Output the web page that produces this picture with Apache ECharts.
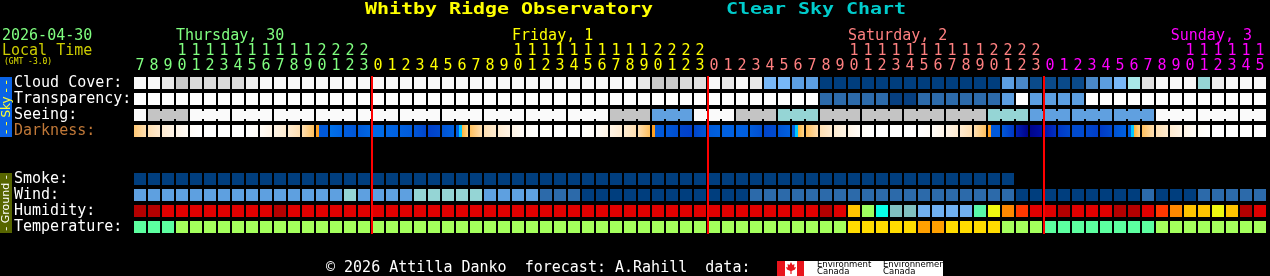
<!DOCTYPE html>
<html><head><meta charset="utf-8">
<style>html,body{margin:0;padding:0;background:#000;overflow:hidden}#c{width:1270px;height:276px}</style>
<script src="https://cdn.jsdelivr.net/npm/echarts@6/dist/echarts.min.js"></script>
</head><body><div id="c"></div>
<script>
// ---------------- DATA ----------------
const hours = [7,8,9,10,11,12,13,14,15,16,17,18,19,20,21,22,23,
  0,1,2,3,4,5,6,7,8,9,10,11,12,13,14,15,16,17,18,19,20,21,22,23,
  0,1,2,3,4,5,6,7,8,9,10,11,12,13,14,15,16,17,18,19,20,21,22,23,
  0,1,2,3,4,5,6,7,8,9,10,11,12,13,14,15];
const dayNames = ['Thursday, 30','Friday, 1','Saturday, 2','Sunday, 3'];
const rowNames = ['Cloud Cover:','Transparency:','Seeing:','Darkness:','','','Smoke:','Wind:','Humidity:','Temperature:'];
// cloud cover, percent
const cloudCover = [100,100,90,70,80,80,80,80,95,
  100,100,100,100,100,100,100,100,100,100,100,100,100,100,100,100,100,100,100,100,100,100,100,100,100,100,100,
  90,70,70,80,85,100,90,100,90,50,50,40,40,
  0,0,0,0,0,0,0,0,0,0,0,0,0,
  40,30,10,10,10,10,30,40,50,60,85,100,100,100,65,95,100,100,100];
// transparency: 0 too cloudy .. 5 transparent
const transparency = [0,0,0,0,0,0,0,0,0,0,0,0,0,0,0,0,0,0,0,0,0,0,0,0,0,0,0,0,0,0,0,0,0,0,0,0,0,0,0,0,0,0,0,0,0,0,0,0,0,
  3,3,3,3,3,4,4,3,3,3,3,3,3,2,0,2,2,2,2,
  0,0,0,0,0,0,0,0,0,0,0,0,0];
// seeing: 0 too cloudy, 1 bad, 2 poor, 3 average
const seeing = [0,1,1,1,
  0,0,0,0,0,0,0,0,0,0,0,0,0,0,0,0,0,0,0,0,0,0,0,0,0,0,0,0,0,0,
  1,1,1,3,3,3,0,0,0,1,1,1,2,2,2,
  1,1,1,1,1,1,1,1,1,1,1,1,
  2,2,2,3,3,3,3,3,3,3,3,3,
  0,0,0,0,0,0,0,0];
// darkness: 0 daylight .. 5 twilight edge, 5.5 sun crossing, 6 moonlit .. 12 darkest
const darkness = [4,3,2,1,0,0,0,0,0,
  1,2,3,4,5.5,7,9,8,7,8,8,9,10,8,5.5,
  4,3,2,1,0,0,0,0,0,
  1,2,3,4,5.5,8.5,10,9,8,8,8,8.5,10,8,5.5,
  4,3,2,1,0,0,0,0,0,
  1,2,3,4,5.5,8.5,12,11.5,10.5,9.5,9,9.5,10,8,5.5,
  4,3,2,1,0,0,0,0,0];
// smoke: 0 = none (forecast ends after Sat 22h)
const smoke = [0,0,0,0,0,0,0,0,0,0,0,0,0,0,0,0,0,0,0,0,0,0,0,0,0,0,0,0,0,0,0,0,0,0,0,0,0,0,0,0,0,0,0,0,0,0,0,0,0,0,0,0,0,0,0,0,0,0,0,0,0,0,0,
  null,null,null,null,null,null,null,null,null,null,null,null,null,null,null,null,null,null];
// wind: 0 (0-5 mph), 1 (6-11), 2 (12-16), 3 (17-28)
const wind = [2,2,2,2,2,2,2,2,2,2,2,2,2,2,2,3,2,2,2,2,3,3,3,3,3,2,2,2,2,1,1,1,
  0,0,0,0,0,0,0,0,0,0,0,0,
  1,1,1,1,1,1,1,1,1,1,1,1,1,1,1,1,1,1,1,
  0,0,0,0,0,0,0,0,0,1,0,0,0,1,1,1,1,1];
// humidity, percent
const humidity = [98,98,93,93,93,93,93,93,93,93,98,
  93,93,93,93,93,93,93,93,93,93,93,93,93,93,93,93,93,93,93,93,93,93,93,93,93,93,93,93,93,93,93,93,93,93,93,93,93,93,
  98,93,77,67,57,52,52,48,48,48,48,62,72,82,87,93,93,98,93,93,93,98,98,93,87,82,77,77,72,77,98,93];
// temperature, deg C
const temperature = [3,3,3,
  8,8,8,8,8,8,8,8,8,8,8,8,8,8,8,8,8,8,8,8,8,8,8,8,8,8,8,8,8,8,8,8,8,8,8,8,8,8,8,8,8,8,8,8,8,8,8,8,
  13,13,13,13,13,18,18,13,13,13,13,8,8,8,
  3,3,3,3,3,3,3,3,8,8,8,8,8,8,8,8];

// ---------------- STYLE ----------------
const MONO = '"DejaVu Sans Mono", monospace';
const dayColors = ['#80FF80','#FFFF00','#FF8080','#FF00FF'];
const cloudColor = {0:'#003E7E',10:'#0A4A8A',20:'#2C6AAA',30:'#4A88C8',40:'#5C9EE0',50:'#78B8F8',60:'#A8E8E8',65:'#95D5D5',70:'#C8C8C8',80:'#DADADA',85:'#E0E0E0',90:'#E8E8E8',95:'#EEEEEE',100:'#F8F8F8'};
const transColor = ['#FFFFFF','#C8C8C8','#5C9EE0','#2C6AAA','#063F80','#003E7E'];
const seeingColor = ['#FAFAFA','#C4C4C4','#95D5D5','#60A0E0','#2C6AAA','#003E7E'];
const smokeColor = ['#003E7E'];
const windColor = ['#003E7E','#2C6AAA','#5EA0E0','#95D5D5'];
function humColor(h){
  if(h<50) return '#70B0F0'; if(h<55) return '#80C0C0'; if(h<60) return '#08FFE8';
  if(h<65) return '#58F8A8'; if(h<70) return '#9EFF60'; if(h<75) return '#EEF810';
  if(h<80) return '#FFC400'; if(h<85) return '#FF8800'; if(h<90) return '#FF3800';
  if(h<95) return '#E00000'; return '#B40000';
}
function tempColor(t){
  if(t<5) return '#5CFFA0'; if(t<10) return '#A4FF5C'; if(t<15) return '#FFDC00'; return '#FFA000';
}
const DAY = ['#FFFFFF','#FFF8EE','#FFF0DC','#FFE6C4','#FFD8A0','#FFB848'];
const NIGHT = ['#0080F0','#0070E8','#0060E0','#0050D0','#0034C4','#0010A8','#000080'];
function hex(c){return [parseInt(c.slice(1,3),16),parseInt(c.slice(3,5),16),parseInt(c.slice(5,7),16)];}
function lerpHex(a,b,t){const A=hex(a),B=hex(b);return 'rgb('+A.map((x,k)=>Math.round(x+(B[k]-x)*t)).join(',')+')';}
function stopColor(stops,base,v){const f=Math.max(0,Math.min(stops.length-1,v-base));const k=Math.floor(f);if(k>=stops.length-1)return stops[stops.length-1];return lerpHex(stops[k],stops[k+1],f-k);}
function dkCol(v){return v<=5?stopColor(DAY,0,v):stopColor(NIGHT,6,v);}
const isDay=v=>v<=5, isNight=v=>v>=6;
function grad(st){return new echarts.graphic.LinearGradient(0,0,1,0,st.map(s=>({offset:s[0],color:s[1]})));}
function dkFill(i){
  const v=darkness[i], p=darkness[i-1], n=darkness[i+1];
  if(isDay(v)){
    const edge=o=>o===undefined?null:Math.min(5,(v+(isDay(o)?o:5.5))/2);
    let L=edge(p), R=edge(n);
    if(L===null) L=Math.max(0,Math.min(5,2*v-R));
    if(R===null) R=Math.max(0,Math.min(5,2*v-L));
    return grad([[0,dkCol(L)],[1,dkCol(R)]]);
  }
  if(isNight(v)){
    const L=(p!==undefined&&isNight(p))?v+(p-v)*0.4:v;
    const R=(n!==undefined&&isNight(n))?v+(n-v)*0.4:v;
    return grad([[0,dkCol(L)],[1,dkCol(R)]]);
  }
  if(p!==undefined&&isDay(p)){
    const b=dkCol(8.5);
    return grad([[0,'#FFA020'],[0.22,'#FFA020'],[0.25,b],[1,b]]);
  }
  const b=dkCol(p!==undefined&&isNight(p)?p:8);
  return grad([[0,b],[0.27,b],[0.29,'#00C8FF'],[0.46,'#00C8FF'],[0.48,'#FFB030'],[1,'#FFD890']]);
}

// ---------------- BUILD ----------------
const dayOfCol=[]; {let d=0; hours.forEach((h,i)=>{if(i>0&&h===0)d++; dayOfCol.push(d);});}
const rows = [
  {r:0, vals:cloudCover, col:v=>cloudColor[v]},
  {r:1, vals:transparency, col:v=>transColor[v]},
  {r:2, vals:seeing, col:v=>seeingColor[v]},
  {r:3, vals:darkness, col:null},
  {r:6, vals:smoke, col:v=>smokeColor[v]},
  {r:7, vals:wind, col:v=>windColor[v]},
  {r:8, vals:humidity, col:humColor},
  {r:9, vals:temperature, col:tempColor}
];
const cells=[];
rows.forEach((row,ri)=>row.vals.forEach((v,i)=>{ if(v!==null&&v!==undefined) cells.push([i,row.r,v,ri]); }));
const midnights = hours.map((h,i)=>(h===0&&i>0)?i:-1).filter(i=>i>=0);

function renderCell(params, api){
  const i=api.value(0), r=api.value(1), v=api.value(2), ri=api.value(3);
  const p=api.coord([i,r]); const s=api.size([1,1]);
  const cw=s[0]-2, ch=s[1]-4;
  const x=Math.round(p[0]-cw/2), y=Math.round(p[1]-ch/2);
  const row=rows[ri];
  const fill = row.col ? row.col(v) : dkFill(i);
  const children=[{type:'rect',shape:{x:x,y:y,width:cw,height:ch},style:{fill:fill}}];
  if(r===2 && i+1<hours.length && hours[i+1]%3!==2){
    children.push({type:'rect',shape:{x:x+cw,y:y+2,width:s[0]-cw,height:ch-4},style:{fill:fill}});
  }
  return {type:'group',children:children};
}
function renderMid(params, api){
  const i=api.value(0);
  const p0=api.coord([i,0]), p1=api.coord([i,9]); const s=api.size([1,1]);
  const x=Math.round(p0[0]-s[0]/2);
  const y0=Math.round(p0[1]-s[1]/2)+1, y1=Math.round(p1[1]+s[1]/2)-1;
  return {type:'rect',shape:{x:x,y:y0,width:2,height:y1-y0},style:{fill:'#FF0000'}};
}

const rich={}; dayColors.forEach((c,k)=>{rich['d'+k]={color:c,fontFamily:MONO,fontSize:15,lineHeight:15};});

const chart=echarts.init(document.getElementById('c'),null,{renderer:'canvas',width:1270,height:276});
chart.setOption({
  backgroundColor:'#000000',
  animation:false,
  grid:{left:133,top:75,width:1134,height:160,containLabel:false},
  xAxis:{type:'category',data:hours.map(String),position:'top',boundaryGap:true,
    axisLine:{show:false},axisTick:{show:false},splitLine:{show:false},
    axisLabel:{interval:0,margin:1,formatter:(val,idx)=>{const d=dayOfCol[idx];const h=+val;
      const t=h>=10?String(Math.floor(h/10)):'\u00a0';return '{d'+d+'|'+t+'}\n{d'+d+'|'+(h%10)+'}';},rich:rich}},
  yAxis:{type:'category',data:rowNames,inverse:true,
    axisLine:{show:false},axisTick:{show:false},splitLine:{show:false},
    axisLabel:{interval:0,margin:119,align:'left',fontFamily:MONO,fontSize:15,
      color:(val)=>val==='Darkness:'?'#C07838':'#FFFFFF'}},
  series:[
    {type:'custom',renderItem:renderCell,data:cells,encode:{x:0,y:1},z:2,silent:true},
    {type:'custom',renderItem:renderMid,data:midnights.map(i=>[i,0]),encode:{x:0,y:1},z:3,silent:true}
  ]
});

// text graphics positioned from the axes
const g=[];
const px=(i,r)=>chart.convertToPixel({gridIndex:0},[i,r]);
const colW=px(1,0)[0]-px(0,0)[0];
const lastRight=px(hours.length-2,0)[0]+colW/2-1;
dayNames.forEach((name,d)=>{
  let ci=hours.findIndex((h,i)=>dayOfCol[i]===d&&h===10);
  if(ci<0) ci=dayOfCol.indexOf(d);
  let x=px(ci,0)[0]-colW/2+1;
  const w=name.length*0.602*15;
  if(x+w>lastRight) x=lastRight-w;
  g.push({type:'text',x:x,y:36,style:{text:name,font:'15px '+MONO,fill:dayColors[d],textAlign:'left',textVerticalAlign:'middle'}});
});
g.push({type:'text',x:365,y:10,scaleX:1.246,style:{text:'Whitby Ridge Observatory',font:'bold 16px '+MONO,fill:'#FFFF00',textAlign:'left',textVerticalAlign:'middle'}});
g.push({type:'text',x:726,y:10,scaleX:1.246,style:{text:'Clear Sky Chart',font:'bold 16px '+MONO,fill:'#00CCCC',textAlign:'left',textVerticalAlign:'middle'}});
g.push({type:'text',x:2,y:36,style:{text:'2026-04-30',font:'15px '+MONO,fill:'#80FF80',textAlign:'left',textVerticalAlign:'middle'}});
g.push({type:'text',x:2,y:51,style:{text:'Local Time',font:'15px '+MONO,fill:'#CCCC00',textAlign:'left',textVerticalAlign:'middle'}});
g.push({type:'text',x:4,y:62,style:{text:'(GMT -3.0)',font:'8px '+MONO,fill:'#E0E000',textAlign:'left',textVerticalAlign:'middle'}});
// side bars
const skyTop=px(0,0)[1]-6, skyBot=px(0,3)[1]+6, grTop=px(0,6)[1]-6, grBot=px(0,9)[1]+6;
g.push({type:'rect',shape:{x:0,y:skyTop,width:12,height:skyBot-skyTop},style:{fill:'#0A63E6'}});
g.push({type:'text',x:6.5,y:(skyTop+skyBot)/2,rotation:Math.PI/2,style:{text:'- - Sky - -',font:'12px "DejaVu Sans"',fill:'#FFFF30',textAlign:'center',textVerticalAlign:'middle'}});
g.push({type:'rect',shape:{x:0,y:grTop,width:12,height:grBot-grTop},style:{fill:'#576500'}});
g.push({type:'text',x:6.5,y:(grTop+grBot)/2,rotation:Math.PI/2,style:{text:'- Ground -',font:'11px "DejaVu Sans"',fill:'#FFFFFF',textAlign:'center',textVerticalAlign:'middle'}});
// footer
g.push({type:'text',x:326,y:268.5,style:{text:'\u00a9 2026 Attilla Danko  forecast: A.Rahill  data:',font:'15px '+MONO,fill:'#FFFFFF',textAlign:'left',textVerticalAlign:'middle'}});
g.push({type:'rect',shape:{x:777,y:261,width:166,height:15},style:{fill:'#FFFFFF'}});
g.push({type:'rect',shape:{x:777,y:261,width:8,height:15},style:{fill:'#E8141C'}});
g.push({type:'rect',shape:{x:797,y:261,width:7,height:15},style:{fill:'#E8141C'}});
g.push({type:'polygon',shape:{points:[[791,262],[792.5,265],[794.5,264],[794,267.5],[796,267],[795,269.5],[791.6,271],[791.6,274],[790.4,274],[790.4,271],[787,269.5],[786,267],[788,267.5],[787.5,264],[789.5,265]]},style:{fill:'#E8141C'}});
g.push({type:'text',x:817,y:265,style:{text:'Environment',font:'8.5px "DejaVu Sans"',fill:'#000000',textAlign:'left',textVerticalAlign:'middle'}});
g.push({type:'text',x:817,y:272,style:{text:'Canada',font:'8.5px "DejaVu Sans"',fill:'#000000',textAlign:'left',textVerticalAlign:'middle'}});
g.push({type:'text',x:883,y:265,style:{text:'Environnement',font:'8.5px "DejaVu Sans"',fill:'#000000',textAlign:'left',textVerticalAlign:'middle'}});
g.push({type:'text',x:883,y:272,style:{text:'Canada',font:'8.5px "DejaVu Sans"',fill:'#000000',textAlign:'left',textVerticalAlign:'middle'}});
chart.setOption({graphic:{elements:g}});
</script>
</body></html>
